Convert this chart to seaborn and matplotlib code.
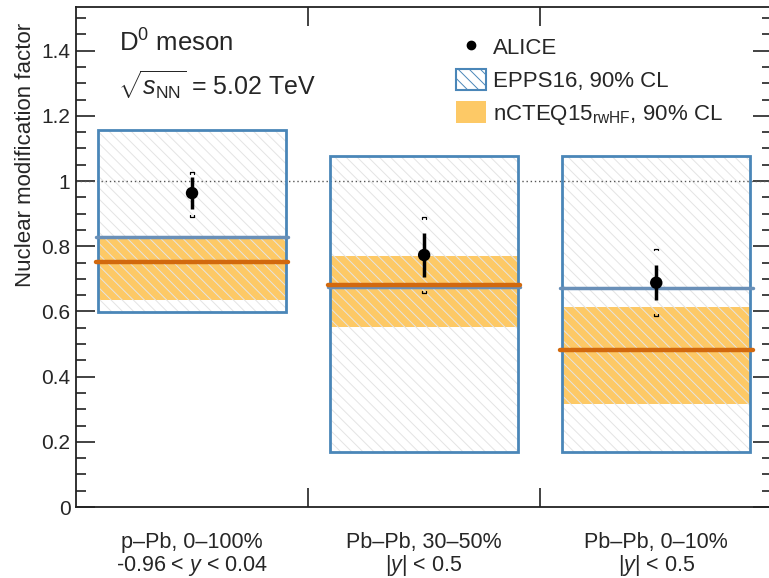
import numpy as np
import pandas as pd
import seaborn as sns
import matplotlib.pyplot as plt
import matplotlib.transforms as mtransforms
from matplotlib.patches import Rectangle, Patch
from matplotlib.lines import Line2D

# categories
systems = ["p\u2013Pb, 0\u2013100%", "Pb\u2013Pb, 30\u201350%", "Pb\u2013Pb, 0\u201310%"]
rapidity = ["-0.96 < $y$ < 0.04", "|$y$| < 0.5", "|$y$| < 0.5"]

# ALICE D0 nuclear modification factor
alice_val = [0.963, 0.773, 0.688]
alice_stat = [0.050, 0.068, 0.054]
alice_syst_lo = [0.890, 0.657, 0.587]
alice_syst_hi = [1.028, 0.890, 0.793]

# EPPS16 90% CL
epps_lo = [0.598, 0.169, 0.169]
epps_hi = [1.156, 1.077, 1.077]
epps_cen = [0.828, 0.676, 0.672]

# nCTEQ15rwHF 90% CL
ncteq_lo = [0.635, 0.552, 0.316]
ncteq_hi = [0.828, 0.770, 0.614]
ncteq_cen = [0.752, 0.681, 0.482]

sns.set_theme(style="ticks")
plt.rcParams['font.family'] = ['Liberation Sans', 'DejaVu Sans']
plt.rcParams['mathtext.fontset'] = 'custom'
plt.rcParams['mathtext.rm'] = 'Liberation Sans'
plt.rcParams['mathtext.it'] = 'Liberation Sans:italic'
plt.rcParams['mathtext.bf'] = 'Liberation Sans:bold'
plt.rcParams['hatch.linewidth'] = 0.7

blue = '#4a86b8'
cen_blue = '#6a90b8'
orange = '#fdc966'
dark_orange = '#d2690e'
hatch_grey = '#e4e4e4'

df = pd.DataFrame({'x': np.arange(3) + 0.5, 'val': alice_val})
half = 0.405

fig = plt.figure(figsize=(7.69, 5.78), dpi=100)
ax = fig.add_axes([0.0988, 0.1228, 0.9055, 0.8652])

for i in range(3):
    xc = i + 0.5
    ax.add_patch(Rectangle((xc - half, ncteq_lo[i]), 2 * half, ncteq_hi[i] - ncteq_lo[i],
                           facecolor=orange, edgecolor='none', zorder=1))
    ax.add_patch(Rectangle((xc - half, epps_lo[i]), 2 * half, epps_hi[i] - epps_lo[i],
                           facecolor='none', edgecolor=hatch_grey, linewidth=0,
                           hatch='\\\\\\', zorder=2))
    ax.add_patch(Rectangle((xc - half, epps_lo[i]), 2 * half, epps_hi[i] - epps_lo[i],
                           fill=False, edgecolor=blue, linewidth=2, zorder=3))
    ax.plot([xc - half - 0.01, xc + half + 0.01], [epps_cen[i]] * 2,
            color=cen_blue, linewidth=2.5, zorder=3)
    ax.plot([xc - half - 0.01, xc + half + 0.01], [ncteq_cen[i]] * 2,
            color=dark_orange, linewidth=3.2, zorder=4)
    # systematic brackets
    bw, bh = 0.008, 0.006
    ax.plot([xc - bw, xc - bw, xc + bw, xc + bw],
            [alice_syst_hi[i] - bh, alice_syst_hi[i], alice_syst_hi[i], alice_syst_hi[i] - bh],
            color='black', linewidth=0.9, zorder=5)
    ax.plot([xc - bw, xc - bw, xc + bw, xc + bw],
            [alice_syst_lo[i] + bh, alice_syst_lo[i], alice_syst_lo[i], alice_syst_lo[i] + bh],
            color='black', linewidth=0.9, zorder=5)

ax.errorbar(df['x'], df['val'], yerr=alice_stat, fmt='none', ecolor='black',
            elinewidth=2.5, capsize=0, zorder=6)
sns.scatterplot(data=df, x='x', y='val', color='black', s=80, edgecolor='none',
                zorder=7, ax=ax, legend=False)

ax.axhline(1.0, color='#555555', linestyle=(0, (1, 2)), linewidth=1, zorder=2)

ax.set_xlim(0, 3)
ax.set_ylim(0, 1.534)
ax.set_xticks([1, 2])
ax.set_xticklabels([])
ax.set_yticks(np.arange(0, 1.41, 0.2))
ax.set_yticklabels(['0', '0.2', '0.4', '0.6', '0.8', '1', '1.2', '1.4'])
ax.set_yticks(np.arange(0, 1.531, 0.05), minor=True)
ax.tick_params(axis='both', which='major', direction='in', length=14, width=1.2,
               top=True, right=True, labelsize=15, pad=4, color='#222222')
ax.tick_params(axis='y', which='minor', direction='in', length=7.5, width=1.2,
               right=True, color='#222222')
ax.set_xlabel('')
ax.set_ylabel('Nuclear modification factor', fontsize=16)
ax.yaxis.label.set_horizontalalignment('right')
ax.yaxis.set_label_coords(-0.058, 0.968)
for s in ax.spines.values():
    s.set_linewidth(1.3)
    s.set_color('#222222')

trans = mtransforms.blended_transform_factory(ax.transData, ax.transAxes)
for i in range(3):
    ax.text(i + 0.5, -0.07, systems[i], transform=trans, ha='center', va='center', fontsize=15.5)
    ax.text(i + 0.5, -0.117, rapidity[i], transform=trans, ha='center', va='center', fontsize=15.5)

ax.text(0.062, 0.928, 'D$^0$ meson', transform=ax.transAxes, fontsize=18.5, va='center')
ax.text(0.06, 0.843, r'$\sqrt{s_{\mathrm{NN}}}$ = 5.02 TeV', transform=ax.transAxes,
        fontsize=18, va='center')

handles = [
    Line2D([], [], marker='o', color='black', linestyle='none', markersize=6),
    Patch(facecolor='white', edgecolor=blue, hatch='\\\\\\', linewidth=1.5),
    Patch(facecolor=orange, edgecolor='none'),
]
labels = ['ALICE', 'EPPS16, 90% CL', 'nCTEQ15$_{\\mathrm{rwHF}}$, 90% CL']
ax.legend(handles, labels, loc='upper left', bbox_to_anchor=(0.527, 0.968),
          frameon=False, fontsize=16, handlelength=1.35, handleheight=1.1,
          handletextpad=0.3, labelspacing=0.42, borderaxespad=0.2)

fig.savefig('out.png', dpi=100)
